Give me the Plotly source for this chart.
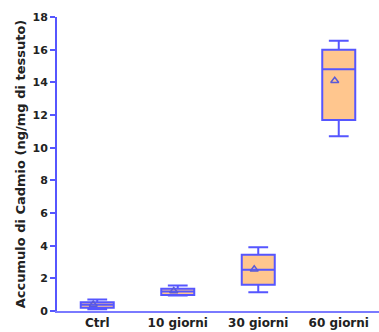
import plotly.graph_objects as go

# Cadmium accumulation per group (ng/mg tissue): summary statistics per box
categories = ["Ctrl", "10 giorni", "30 giorni", "60 giorni"]
lower_whisker = [0.10, 0.95, 1.15, 10.7]
q1_values = [0.20, 0.98, 1.60, 11.7]
median_values = [0.38, 1.20, 2.52, 14.8]
q3_values = [0.54, 1.36, 3.45, 16.0]
upper_whisker = [0.70, 1.56, 3.90, 16.55]
mean_values = [0.40, 1.22, 2.55, 14.1]
y_ticks = [0, 2, 4, 6, 8, 10, 12, 14, 16, 18]

positions = list(range(len(categories)))

BLUE = "#5656ff"
FILL = "#ffc68e"
TEXT = "#222222"
FONT = "DejaVu Sans"

fig = go.Figure()

fig.add_trace(go.Box(
    x=positions,
    q1=q1_values,
    median=median_values,
    q3=q3_values,
    lowerfence=lower_whisker,
    upperfence=upper_whisker,
    boxpoints=False,
    fillcolor=FILL,
    line=dict(color=BLUE, width=2),
    width=0.41,
    whiskerwidth=0.6,
    showlegend=False,
    hoverinfo="skip",
))

# group means drawn as small triangles, nudged slightly left of the box centre
fig.add_trace(go.Scatter(
    x=[p - 0.05 for p in positions],
    y=mean_values,
    mode="markers",
    marker=dict(symbol="triangle-up-open", size=7, color="#5a5ad8",
                line=dict(width=1.5, color="#5a5ad8")),
    showlegend=False,
    hoverinfo="skip",
))

fig.update_layout(
    width=379,
    height=332,
    margin=dict(l=57, r=0, t=17, b=21),
    paper_bgcolor="white",
    plot_bgcolor="white",
    font=dict(family=FONT, size=11, color=TEXT),
)

fig.update_xaxes(
    range=[-0.5, 3.5],
    tickmode="array",
    tickvals=positions,
    ticktext=[f"<b>{c}</b>" for c in categories],
    ticks="",
    showgrid=False,
    zeroline=False,
    showline=True,
    linecolor="#7a7aff",
    linewidth=2,
    tickfont=dict(family=FONT, size=12, color=TEXT),
)

fig.update_yaxes(
    range=[0, 18],
    tickmode="array",
    tickvals=y_ticks,
    ticktext=[f"<b>{t}</b>" for t in y_ticks],
    ticks="outside",
    ticklen=5,
    tickwidth=2,
    tickcolor=BLUE,
    showgrid=False,
    zeroline=False,
    showline=True,
    linecolor=BLUE,
    linewidth=2,
    tickfont=dict(family=FONT, size=11, color=TEXT),
    title=dict(text="<b>Accumulo di Cadmio (ng/mg di tessuto)</b>",
               font=dict(family=FONT, size=13, color=TEXT), standoff=4),
)

fig.write_html("out.html")
